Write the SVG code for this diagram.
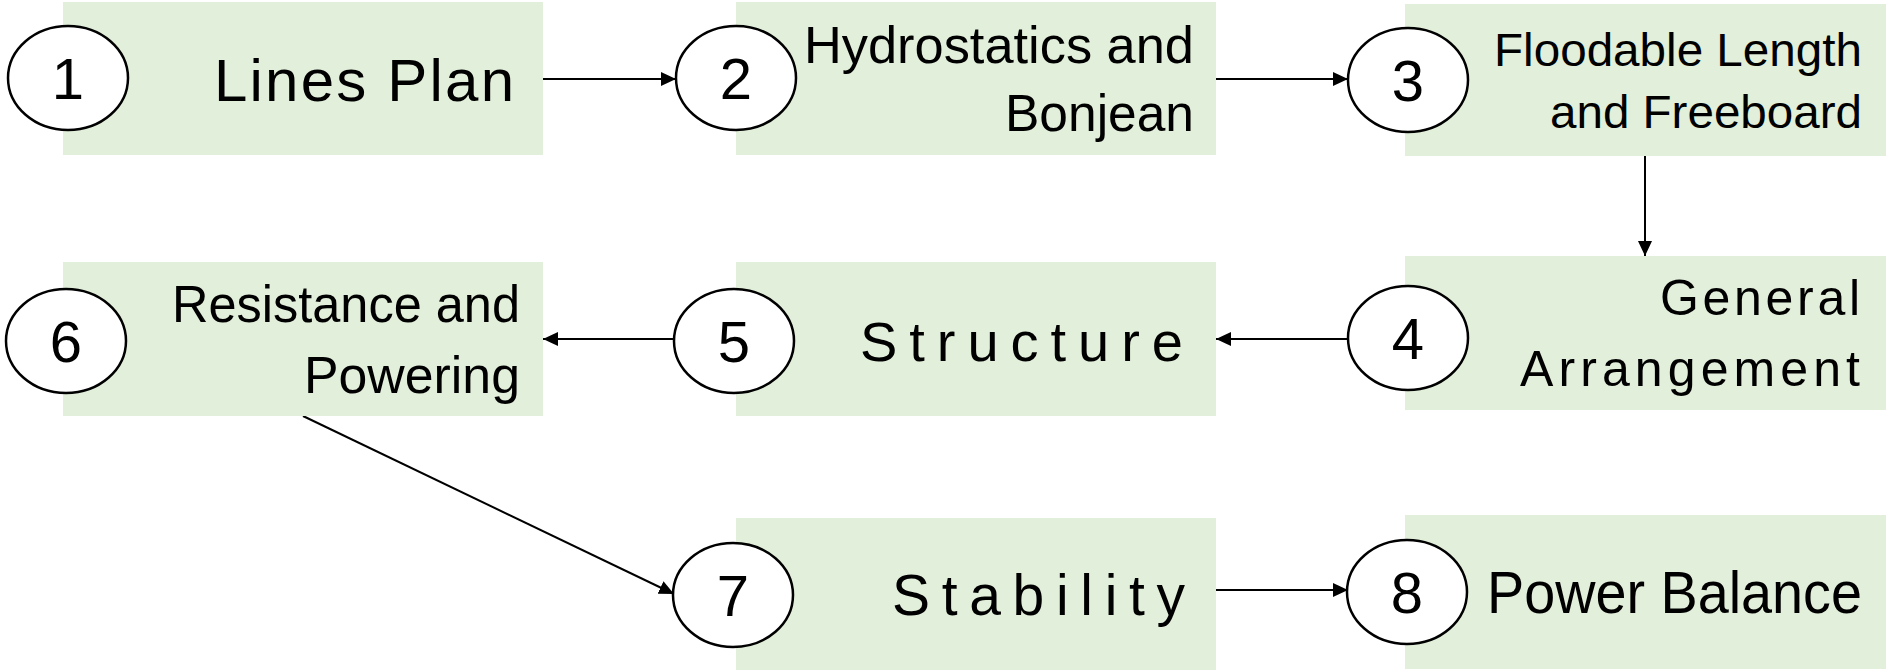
<svg xmlns="http://www.w3.org/2000/svg" width="1886" height="670" viewBox="0 0 1886 670">
<style>
.box{fill:#E2EFDA;stroke:none}
.num{fill:#fff;stroke:#000;stroke-width:2.5}
.lbl{font-family:"Liberation Sans",Arial,sans-serif;fill:#000}
.dig{font-family:"Liberation Sans",Arial,sans-serif;font-size:58px;fill:#000;text-anchor:middle}
.con{stroke:#000;stroke-width:2;fill:none;marker-end:url(#ah)}
</style>
<defs>
<marker id="ah" markerUnits="userSpaceOnUse" markerWidth="16" markerHeight="14" refX="15" refY="7" orient="auto">
<path d="M0,0 L15,7 L0,14 z" fill="#000"/>
</marker>
</defs>
<rect width="1886" height="670" fill="#fff"/>
<g id="connectors">
<line class="con" x1="543" y1="79" x2="676" y2="79"/>
<line class="con" x1="1216" y1="79" x2="1348" y2="79"/>
<line class="con" x1="1645" y1="155" x2="1645" y2="256"/>
<line class="con" x1="1348" y1="339" x2="1216" y2="339"/>
<line class="con" x1="674" y1="339" x2="543" y2="339"/>
<line class="con" x1="303" y1="416" x2="674" y2="594"/>
<line class="con" x1="1216" y1="590" x2="1348" y2="590"/>
</g>
<g id="node1">
<rect class="box" x="63" y="2" width="480" height="153"/>
<ellipse class="num" cx="68" cy="78" rx="60" ry="52"/>
<text class="dig" x="68" y="99">1</text>
<text class="lbl" x="214" y="101" font-size="60" textLength="300" lengthAdjust="spacing">Lines Plan</text>
</g>
<g id="node2">
<rect class="box" x="736" y="2" width="480" height="153"/>
<ellipse class="num" cx="736" cy="78" rx="60" ry="52"/>
<text class="dig" x="736" y="99">2</text>
<text class="lbl" x="804" y="63" font-size="52" textLength="390" lengthAdjust="spacingAndGlyphs">Hydrostatics and</text>
<text class="lbl" x="1005" y="131" font-size="52" textLength="189" lengthAdjust="spacingAndGlyphs">Bonjean</text>
</g>
<g id="node3">
<rect class="box" x="1405" y="4" width="481" height="152"/>
<ellipse class="num" cx="1408" cy="80" rx="60" ry="52"/>
<text class="dig" x="1408" y="101">3</text>
<text class="lbl" x="1494" y="66" font-size="47" textLength="368" lengthAdjust="spacingAndGlyphs">Floodable Length</text>
<text class="lbl" x="1550" y="128" font-size="47" textLength="312" lengthAdjust="spacingAndGlyphs">and Freeboard</text>
</g>
<g id="node4">
<rect class="box" x="1405" y="256" width="481" height="154"/>
<ellipse class="num" cx="1408" cy="338" rx="60" ry="52"/>
<text class="dig" x="1408" y="359">4</text>
<text class="lbl" x="1660" y="315" font-size="50" textLength="200" lengthAdjust="spacing">General</text>
<text class="lbl" x="1520" y="386" font-size="50" textLength="340" lengthAdjust="spacing">Arrangement</text>
</g>
<g id="node5">
<rect class="box" x="736" y="262" width="480" height="154"/>
<ellipse class="num" cx="734" cy="341" rx="60" ry="52"/>
<text class="dig" x="734" y="362">5</text>
<text class="lbl" x="860" y="361" font-size="56" textLength="323" lengthAdjust="spacing">Structure</text>
</g>
<g id="node6">
<rect class="box" x="63" y="262" width="480" height="154"/>
<ellipse class="num" cx="66" cy="341" rx="60" ry="52"/>
<text class="dig" x="66" y="362">6</text>
<text class="lbl" x="172" y="322" font-size="52" textLength="348" lengthAdjust="spacingAndGlyphs">Resistance and</text>
<text class="lbl" x="304" y="393" font-size="52" textLength="216" lengthAdjust="spacingAndGlyphs">Powering</text>
</g>
<g id="node7">
<rect class="box" x="736" y="518" width="480" height="152"/>
<ellipse class="num" cx="733" cy="595" rx="60" ry="52"/>
<text class="dig" x="733" y="616">7</text>
<text class="lbl" x="892" y="615" font-size="57" textLength="293" lengthAdjust="spacing">Stability</text>
</g>
<g id="node8">
<rect class="box" x="1405" y="515" width="481" height="154"/>
<ellipse class="num" cx="1407" cy="592" rx="60" ry="52"/>
<text class="dig" x="1407" y="613">8</text>
<text class="lbl" x="1487" y="613" font-size="60" textLength="375" lengthAdjust="spacingAndGlyphs">Power Balance</text>
</g>
</svg>
